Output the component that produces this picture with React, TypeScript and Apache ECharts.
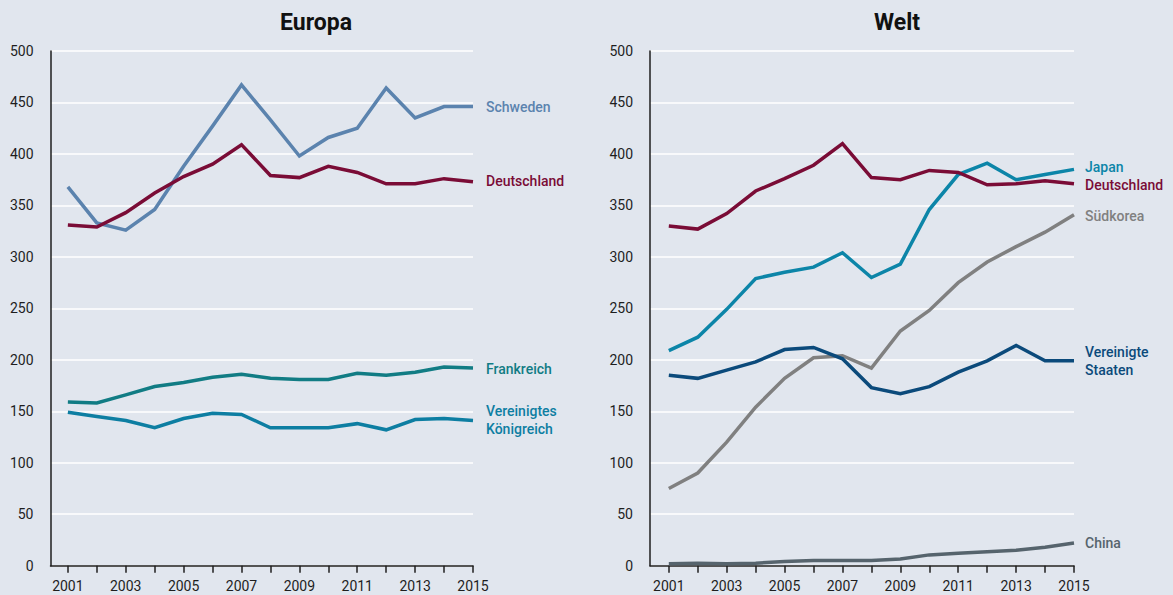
import React, { useEffect, useRef } from "react";
import * as echarts from "echarts";

const years = [2001, 2002, 2003, 2004, 2005, 2006, 2007, 2008, 2009, 2010, 2011, 2012, 2013, 2014, 2015];
const tickYears = years;
const labelYears = [2001, 2003, 2005, 2007, 2009, 2011, 2013, 2015];

// Europa
const euSchweden = [368, 333, 326, 346, 388, 427, 467, 433, 398, 416, 425, 464, 435, 446, 446];
const euDeutschland = [331, 329, 343, 362, 378, 390, 409, 379, 377, 388, 382, 371, 371, 376, 373];
const euFrankreich = [159, 158, 166, 174, 178, 183, 186, 182, 181, 181, 187, 185, 188, 193, 192];
const euUK = [149, 145, 141, 134, 143, 148, 147, 134, 134, 134, 138, 132, 142, 143, 141];

// Welt
const wDeutschland = [330, 327, 342, 364, 376, 389, 410, 377, 375, 384, 382, 370, 371, 374, 371];
const wJapan = [209, 222, 249, 279, 285, 290, 304, 280, 293, 346, 380, 391, 375, 380, 385];
const wSuedkorea = [75, 90, 120, 154, 182, 202, 204, 192, 228, 248, 275, 295, 310, 324, 341];
const wUSA = [185, 182, 190, 198, 210, 212, 201, 173, 167, 174, 188, 199, 214, 199, 199];
const wChina = [2, 2.5, 2, 2.5, 4, 5, 5, 5, 6.5, 10.5, 12, 13.5, 15, 18, 22];

const BG = "#e1e6ee";
const FONT = "Roboto, 'Noto Sans', sans-serif";

const C_SCHWEDEN = "#5b83ae";
const C_DE = "#7a0c36";
const C_FR = "#117c84";
const C_UK = "#0d7ea2";
const C_JP = "#0c85a8";
const C_KR = "#808080";
const C_US = "#0b4a7b";
const C_CN = "#56646d";

function pairs(vals: number[]) {
  return years.map((y, i) => [y, vals[i]]);
}

function mkSeries(
  name: string,
  vals: number[],
  color: string,
  idx: number,
  label: string,
  dy: number,
  dist: number
) {
  return {
    type: "line",
    name,
    xAxisIndex: idx,
    yAxisIndex: idx,
    data: pairs(vals),
    showSymbol: false,
    symbol: "none",
    lineStyle: { color, width: 3.5, cap: "butt", join: "miter" },
    z: 3,
    endLabel: {
      show: true,
      formatter: label,
      color,
      fontFamily: FONT,
      fontSize: 14,
      fontWeight: 500,
      lineHeight: 18,
      distance: dist,
      offset: [0, dy],
      align: "left",
      verticalAlign: "middle",
    },
  };
}

function xAxis(idx: number, min: number) {
  return {
    type: "value",
    gridIndex: idx,
    min,
    max: 2015,
    axisLine: { show: true, onZero: false, lineStyle: { color: "#1e1e1e", width: 1.5 } },
    axisTick: {
      show: true,
      length: 7,
      customValues: tickYears,
      lineStyle: { color: "#1e1e1e", width: 1.5 },
    },
    axisLabel: {
      show: true,
      customValues: labelYears,
      margin: 13,
      color: "#1e1e1e",
      fontFamily: FONT,
      fontSize: 14,
      formatter: (v: number) => String(v),
    },
    splitLine: { show: false },
  };
}

function yAxis(idx: number) {
  return {
    type: "value",
    gridIndex: idx,
    min: 0,
    max: 500,
    interval: 50,
    axisLine: { show: true, lineStyle: { color: "#1e1e1e", width: 1.5 } },
    axisTick: { show: false },
    axisLabel: {
      margin: 17,
      color: "#1e1e1e",
      fontFamily: FONT,
      fontSize: 14,
    },
    splitLine: { show: true, lineStyle: { color: "#ffffff", width: 1.5 } },
  };
}

export default function App() {
  const ref = useRef<HTMLDivElement>(null);
  useEffect(() => {
    if (!ref.current) return;
    const chart = echarts.init(ref.current, undefined, { renderer: "svg" });
    chart.setOption({
      animation: false,
      backgroundColor: BG,
      textStyle: { fontFamily: FONT },
      graphic: [
        {
          type: "text",
          x: 316,
          y: 22,
          style: {
            text: "Europa",
            fill: "#111",
            font: "bold 23px Roboto, sans-serif",
            textAlign: "center",
            textVerticalAlign: "middle",
          },
        },
        {
          type: "text",
          x: 897,
          y: 22,
          style: {
            text: "Welt",
            fill: "#111",
            font: "bold 23px Roboto, sans-serif",
            textAlign: "center",
            textVerticalAlign: "middle",
          },
        },
      ],
      grid: [
        { left: 50.5, top: 51, width: 422.5, height: 514.7, containLabel: false },
        { left: 650, top: 51, width: 424, height: 514.7, containLabel: false },
      ],
      xAxis: [xAxis(0, 2000.4), xAxis(1, 2000.35)],
      yAxis: [yAxis(0), yAxis(1)],
      series: [
        mkSeries("Schweden", euSchweden, C_SCHWEDEN, 0, "Schweden", 0, 13),
        mkSeries("Deutschland", euDeutschland, C_DE, 0, "Deutschland", -1, 13),
        mkSeries("Frankreich", euFrankreich, C_FR, 0, "Frankreich", 1, 13),
        mkSeries("Vereinigtes Königreich", euUK, C_UK, 0, "Vereinigtes\nKönigreich", -1, 13),
        mkSeries("Südkorea", wSuedkorea, C_KR, 1, "Südkorea", 1, 11),
        mkSeries("China", wChina, C_CN, 1, "China", 0, 11),
        mkSeries("Vereinigte Staaten", wUSA, C_US, 1, "Vereinigte\nStaaten", 0, 11),
        mkSeries("Japan", wJapan, C_JP, 1, "Japan", -2.5, 11),
        mkSeries("Deutschland (Welt)", wDeutschland, C_DE, 1, "Deutschland", 1.5, 11),
      ],
    });
    return () => chart.dispose();
  }, []);
  return (
    <div
      ref={ref}
      style={{ position: "fixed", left: 0, top: 0, width: 1173, height: 595, background: BG }}
    />
  );
}
